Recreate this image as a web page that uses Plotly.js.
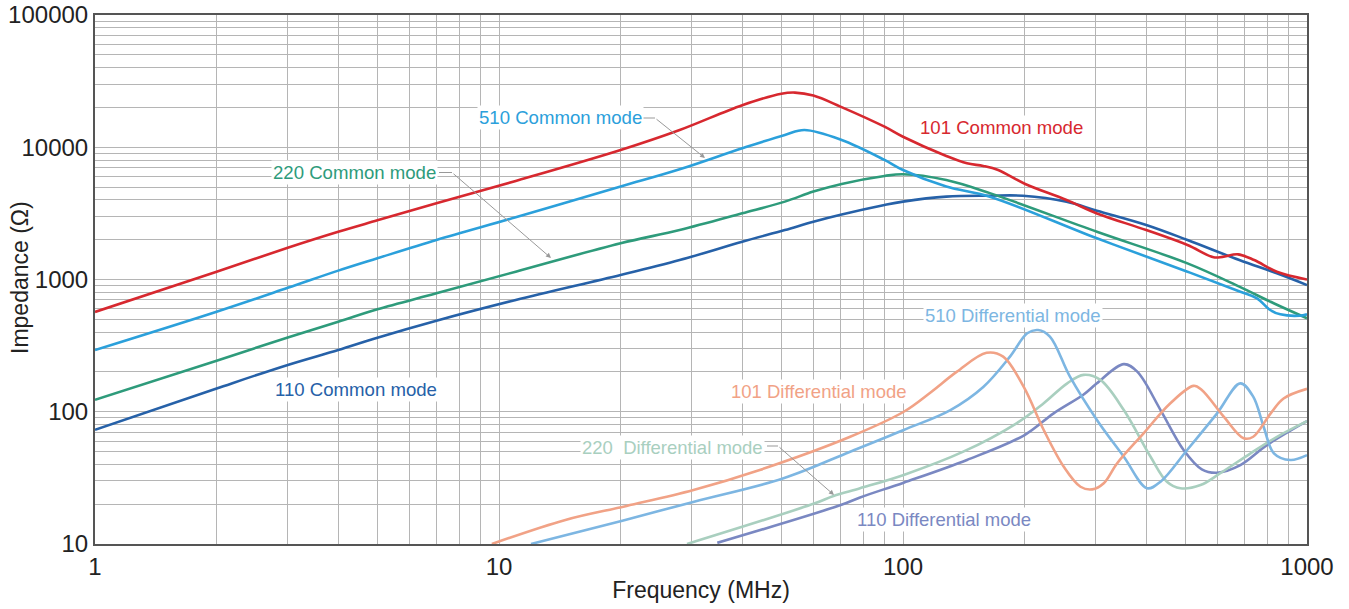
<!DOCTYPE html>
<html>
<head>
<meta charset="utf-8">
<script src="https://cdn.plot.ly/plotly-3.0.1.min.js"></script>
<style>html,body{margin:0;padding:0;background:#fff;}#chart{width:1349px;height:609px;}</style>
</head>
<body>
<div id="chart"></div>
<script>
// ---- Data (MHz, Ohm) ----
const cm101F = [1, 2, 3, 4, 5, 7, 11, 20, 28, 40, 50, 54, 60, 70, 90, 100, 128, 144, 158, 172, 200, 254, 302, 400, 506, 587, 618, 675, 740, 842, 1000];
const cm101Z = [568, 1145, 1738, 2296, 2800, 3768, 5560, 9530, 13500, 20800, 25400, 25900, 24600, 20300, 14300, 12000, 8590, 7560, 7220, 6730, 5300, 3990, 3160, 2366, 1823, 1472, 1482, 1550, 1403, 1145, 1000];

const cm510F = [1, 2, 3, 4, 5, 7, 11, 20, 28, 40, 51, 57, 70.5, 90, 100, 128, 164, 302, 506, 684, 752, 811, 859, 958, 1000];
const cm510Z = [293, 571, 865, 1167, 1447, 1990, 2953, 5040, 6810, 9820, 12400, 13500, 11350, 8020, 6730, 5040, 4230, 2050, 1145, 809, 721, 588, 545, 532, 545];

const cm220F = [1, 2, 3, 4, 5, 7, 11, 20, 28, 40, 51, 60, 70.5, 90, 100, 128, 164, 302, 506, 680, 827, 1000];
const cm220Z = [123, 243, 365, 480, 596, 787, 1146, 1880, 2366, 3164, 3880, 4620, 5280, 6060, 6250, 5650, 4500, 2296, 1324, 883, 661, 509];

const cm110F = [1, 2, 3, 4, 5, 7, 11, 20, 28, 40, 51, 60, 70.5, 90, 100, 128, 164, 198, 254, 302, 400, 506, 680, 842, 1000];
const cm110Z = [73, 150, 226, 293, 363, 488, 700, 1081, 1403, 1930, 2366, 2735, 3100, 3656, 3880, 4230, 4300, 4300, 3880, 3313, 2585, 1990, 1403, 1114, 908];

const dm101F = [9.6, 14.6, 20.7, 30.3, 44.2, 74, 100.4, 117, 136, 161, 177, 199, 223, 250, 275, 294, 314, 339, 394, 459, 524, 549, 622, 697, 736, 813, 875, 1000];
const dm101Z = [10, 15.2, 19.4, 25.6, 36.3, 64.7, 100, 140, 201, 279, 261, 154, 72.8, 38.4, 27.1, 25.9, 28.8, 40.8, 68.7, 116, 157, 146, 91.8, 63, 64.7, 97.3, 126, 149];

const dm510F = [12.0, 20.2, 30.4, 50.6, 74, 100.4, 131, 158, 184, 203, 216, 231, 259, 302, 352, 402, 434, 505, 599, 684, 736, 781, 828, 910, 1000];
const dm510Z = [10, 15.0, 20.9, 31.4, 49.9, 72.8, 103, 154, 261, 392, 415, 370, 184, 86.7, 45.7, 26.4, 29.6, 51.4, 97.3, 164, 130, 77, 48.5, 43.2, 47];

const dm220F = [29.2, 60.5, 67.3, 78.3, 100.4, 141, 191, 223, 255, 280, 308, 352, 410, 450, 486, 545, 610, 725, 843, 1000];
const dm220Z = [10, 20.3, 23.1, 26.4, 33.3, 49.9, 81.8, 116, 164, 190, 174, 103, 45.7, 29.6, 26.4, 27.9, 34.3, 48.5, 64.7, 85];

const dm110F = [34.7, 70.1, 78.3, 100.4, 144, 200, 236, 280, 302, 352, 380, 434, 495, 549, 599, 684, 797, 1000];
const dm110Z = [10.2, 19.7, 22.5, 29.1, 43.2, 66.7, 97.3, 135, 164, 229, 201, 103, 51.4, 36.7, 34.6, 39.5, 56.1, 85];

const xTickLabels = ['1', '10', '100', '1000'];
const yTickLabels = ['10', '100', '1000', '10000', '100000'];

const seriesNames = ['101 Common mode', '510 Common mode', '220 Common mode', '110 Common mode',
  '101 Differential mode', '510 Differential mode', '220  Differential mode', '110 Differential mode'];

// ---- Styles ----
const colors = ['#d7282f', '#2ba0db', '#2e9b7b', '#2661a8', '#f1a286', '#7db6e2', '#a9cfbf', '#7a88c2'];
const dataF = [cm101F, cm510F, cm220F, cm110F, dm101F, dm510F, dm220F, dm110F];
const dataZ = [cm101Z, cm510Z, cm220Z, cm110Z, dm101Z, dm510Z, dm220Z, dm110Z];

const traces = [];
const order = [7, 6, 5, 4, 3, 2, 1, 0];
order.forEach(i => {
  traces.push({
    x: dataF[i], y: dataZ[i], type: 'scatter', mode: 'lines', name: seriesNames[i],
    line: {color: colors[i], width: 2.6, shape: 'spline', smoothing: 1},
    cliponaxis: true, hoverinfo: 'skip'
  });
});

// ticks and grid (decade labels, grid at every digit)
function logTicks(d0, d1, labels) {
  const vals = [], text = [];
  for (let d = d0; d <= d1; d++) {
    for (let m = 1; m <= 9; m++) {
      if (d === d1 && m > 1) break;
      vals.push(m * Math.pow(10, d));
      text.push(m === 1 ? labels[d - d0] : '');
    }
  }
  return {vals, text};
}
const xt = logTicks(0, 3, xTickLabels);
const yt = logTicks(1, 5, yTickLabels);

// pixel -> paper helpers for label placement
const L = 95, R = 1307, T = 15, B = 544;
const px = x => (x - L) / (R - L);
const py = y => (B - y) / (B - T);

const font = '"Liberation Sans", Arial, Helvetica, sans-serif';
const lbl = (text, cx, cy, color, size) => ({
  text, x: px(cx), y: py(cy), xref: 'paper', yref: 'paper', showarrow: false,
  xanchor: 'center', yanchor: 'middle', bgcolor: '#ffffff', borderpad: 1,
  font: {family: font, size, color}
});
const arrow = (x0, y0, x1, y1) => ({
  text: '', x: px(x1), y: py(y1), xref: 'paper', yref: 'paper', showarrow: true,
  ax: x0 - x1, ay: y0 - y1, axref: 'pixel', ayref: 'pixel',
  arrowhead: 2, arrowsize: 1, arrowwidth: 1, arrowcolor: '#999999', standoff: 0, startstandoff: 0
});
const seg = (x0, y0, x1, y1) => ({
  type: 'line', xref: 'paper', yref: 'paper', x0: px(x0), y0: py(y0), x1: px(x1), y1: py(y1),
  line: {color: '#999999', width: 1}
});

const annotations = [
  lbl(seriesNames[1], 560, 118, colors[1], 18.6),
  lbl(seriesNames[2], 354, 172.5, colors[2], 18.6),
  lbl(seriesNames[0], 1001, 127, colors[0], 18.6),
  lbl(seriesNames[3], 355.5, 389, colors[3], 18.6),
  lbl(seriesNames[5], 1012.5, 315, colors[5], 18.5),
  lbl(seriesNames[4], 818.5, 392, colors[4], 18.5),
  lbl(seriesNames[6], 672.5, 447, colors[6], 18.5),
  lbl(seriesNames[7], 944, 519, colors[7], 18.5),
  arrow(655, 118, 705, 158),
  arrow(452, 172.5, 551, 258),
  arrow(778, 446, 834, 495),
  {text: 'Impedance (Ω)', textangle: -90, x: px(20), y: py(278), xref: 'paper', yref: 'paper',
   showarrow: false, xanchor: 'center', yanchor: 'middle', font: {family: font, size: 23, color: '#222222'}}
];
const shapes = [seg(643, 118, 655, 118), seg(439, 172.5, 452, 172.5), seg(767, 446, 778, 446)];

const axisCommon = {
  type: 'log', showline: true, mirror: true, linecolor: '#555555', linewidth: 2,
  showgrid: true, gridcolor: '#b5b5b5', gridwidth: 1, zeroline: false, ticks: '',
  tickmode: 'array', tickfont: {family: font, size: 24, color: '#222222'}
};

const layout = {
  width: 1349, height: 609,
  margin: {l: L, r: 1349 - R, t: T, b: 609 - B},
  paper_bgcolor: '#ffffff', plot_bgcolor: '#ffffff',
  showlegend: false,
  xaxis: Object.assign({}, axisCommon, {
    range: [0, 3], tickvals: xt.vals, ticktext: xt.text, ticklabelstandoff: 0,
    title: {text: 'Frequency (MHz)', font: {family: font, size: 23, color: '#222222'}, standoff: 3}
  }),
  yaxis: Object.assign({}, axisCommon, {
    range: [1, 5], tickvals: yt.vals, ticktext: yt.text, ticklabelstandoff: 0
  }),
  annotations, shapes
};

Plotly.newPlot('chart', traces, layout, {staticPlot: true, displayModeBar: false});
</script>
</body>
</html>
